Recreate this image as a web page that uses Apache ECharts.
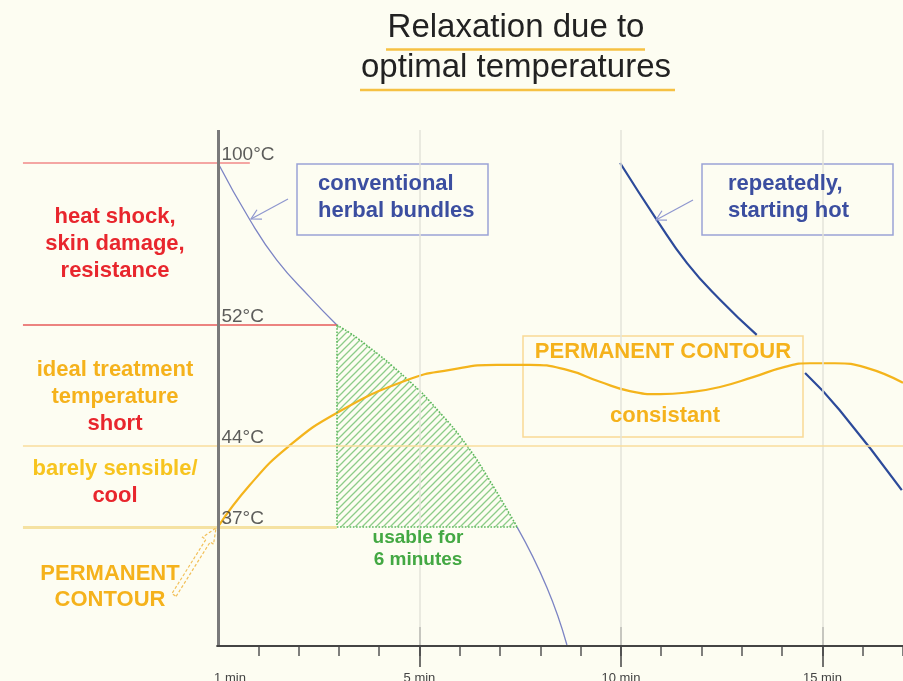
<!DOCTYPE html>
<html><head><meta charset="utf-8">
<script src="https://cdn.jsdelivr.net/npm/echarts@6/dist/echarts.min.js"></script>
<style>html,body{margin:0;padding:0;background:#fdfdf2}#c{width:903px;height:681px}</style>
</head><body><div id="c"></div>
<script>
// ---------- data (x: minutes, y: schematic heat level 0-100) ----------
const minorTicks = [1,2,3,4,5,6,7,8,9,10,11,12,13,14,15,16,17];
const majorTicks = [5,10,15];
const xLabelValues = [0,5,10,15];
const xLabelTexts = ['1 min','5 min','10 min','15 min'];
const tempLabels = ['37°C','44°C','52°C','100°C'];
const tempLevels = [23.1,38.8,62.2,93.6];
const levelLineFrom = -4.84;
const levelLineTo = [2.95,17,2.95,0.79];
const bundleCurve = [[0,93.6],[0.79,82.6],[1.46,74.8],[2.28,67.6],[2.95,62.2],[3.52,59.3],[4.71,51.6],[5.51,45.2],[6.20,38.6],[6.75,32.0],[7.42,23.1],[8.16,11.4],[8.66,0.2]];
const repeatCurve = [[9.98,93.6],[10.89,82.6],[11.64,74.2],[12.46,67.1],[13.37,60.3],null,[14.57,52.9],[15.43,45.7],[16.97,30.2]];
const contourCurve = [[0,23.1],[0.79,31.2],[1.74,38.6],[2.98,45.3],[4.71,51.6],[5.76,53.5],[6.92,54.5],[7.74,54.5],[8.66,53.5],[9.48,51.2],[10.22,49.4],[10.97,48.8],[11.71,49.2],[12.46,50.2],[13.28,52.1],[14.07,54.1],[14.69,54.8],[15.31,54.8],[16.10,53.9],[17,51.0]];
const usableStart = 2.95, usableEnd = 7.42;

// ---------- derived ----------
const bundleA = bundleCurve.filter(p => p[0] <= usableStart);
const bundleB = bundleCurve.filter(p => p[0] >= usableEnd);
const hatchData = bundleCurve.filter(p => p[0] >= usableStart && p[0] <= usableEnd);
const gapIdx = repeatCurve.indexOf(null);
const repeatA = repeatCurve.slice(0, gapIdx), repeatB = repeatCurve.slice(gapIdx + 1);
const usableTop = hatchData[0][1];

function hatchPattern(){
  const s = 7, c = document.createElement('canvas'); c.width = c.height = s;
  const g = c.getContext('2d'); g.strokeStyle = '#8dcc89'; g.lineWidth = 1.3;
  g.beginPath(); g.moveTo(0,s); g.lineTo(s,0); g.moveTo(-1,1); g.lineTo(1,-1); g.moveTo(s-1,s+1); g.lineTo(s+1,s-1); g.stroke();
  return c;
}

const FONT = 'Liberation Sans, Arial, sans-serif';
const RED = '#e8262d', ORANGE = '#f5b21c', YEL = '#f7c41f', BLUE_T = '#3b4ea0', GREEN = '#43a843';
const SM = {smooth:0.5, symbol:'none', silent:true};

function T(text, x, y, color, size, weight, align){
  return {type:'text', x, y, z:10, silent:true, style:{text, fill:color, fontSize:size, fontWeight:weight||'bold', fontFamily:FONT, align:align||'center', verticalAlign:'middle'}};
}
function arrow(tail, tip, color, len, ang){
  const dx = tail[0]-tip[0], dy = tail[1]-tip[1], L = Math.hypot(dx,dy), ux = dx/L, uy = dy/L;
  const r = a => [tip[0] + len*(ux*Math.cos(a) - uy*Math.sin(a)), tip[1] + len*(ux*Math.sin(a) + uy*Math.cos(a))];
  return [
    {type:'line', z:10, silent:true, shape:{x1:tail[0],y1:tail[1],x2:tip[0],y2:tip[1]}, style:{stroke:color, lineWidth:1.2}},
    {type:'polyline', z:10, silent:true, shape:{points:[r(ang), tip, r(-ang)]}, style:{stroke:color, lineWidth:1.2, fill:null}}
  ];
}
function blockArrow(tail, tip, color){
  const dx = tip[0]-tail[0], dy = tip[1]-tail[1], L = Math.hypot(dx,dy), ux = dx/L, uy = dy/L, nx = -uy, ny = ux;
  const bx = tip[0]-ux*15, by = tip[1]-uy*15, w = 2.5, h = 6.5;
  const pts = [[tail[0]+nx*w,tail[1]+ny*w],[bx+nx*w,by+ny*w],[bx+nx*h,by+ny*h],tip,[bx-nx*h,by-ny*h],[bx-nx*w,by-ny*w],[tail[0]-nx*w,tail[1]-ny*w]];
  return {type:'polygon', z:10, silent:true, shape:{points:pts}, style:{stroke:color, lineWidth:1.2, fill:null, lineDash:[3,2]}};
}

const levelColors = ['#f5e2a2','#f8dc9c','#e65a5a','#f08888'];
const levelWidths = [3,1.6,1.6,1.6];

const chart = echarts.init(document.getElementById('c'), null, {renderer:'canvas'});
const xBase = {type:'value', min:-5, max:17, interval:1, gridIndex:0, position:'bottom', axisLine:{show:false}, splitLine:{show:false}};
chart.setOption({
  animation:false,
  backgroundColor:'#fdfdf2',
  grid:{left:16.5, right:0, top:130, bottom:35, containLabel:false, outerBoundsMode:'none'},
  xAxis:[
    Object.assign({}, xBase, {
      axisTick:{show:true, customValues:minorTicks, length:10, lineStyle:{color:'#555', width:1.5}},
      axisLabel:{show:true, customValues:xLabelValues, margin:26, color:'#444', fontSize:13, fontFamily:FONT,
        formatter:v => { const i = xLabelValues.indexOf(v); return i === 0 ? '{f|' + xLabelTexts[i] + '}' : xLabelTexts[i]; },
        rich:{f:{padding:[0,0,0,24], fontSize:13, color:'#444', fontFamily:FONT}}}
    }),
    Object.assign({}, xBase, {axisTick:{show:true, customValues:majorTicks, length:21, lineStyle:{color:'#444', width:1.5}}, axisLabel:{show:false}}),
    Object.assign({}, xBase, {axisTick:{show:true, inside:true, customValues:majorTicks, length:19, lineStyle:{color:'#444', width:1.5}}, axisLabel:{show:false}})
  ],
  yAxis:{type:'value', min:0, max:100, axisLine:{show:false}, axisTick:{show:false}, axisLabel:{show:false}, splitLine:{show:false}},
  series:[
    {type:'line', name:'frame', data:[], z:1, clip:false, silent:true,
     markLine:{silent:true, symbol:['none','none'], label:{show:false}, animation:false,
       data:[
         ...majorTicks.map(v => [{coord:[v,0], lineStyle:{color:'#e3e3da', width:1.5, type:'solid'}},{coord:[v,100]}]),
         ...tempLevels.map((lv,i) => [{coord:[levelLineFrom,lv], lineStyle:{color:levelColors[i], width:levelWidths[i], type:'solid'}},{coord:[levelLineTo[i],lv]}]),
         [{coord:[0,0], lineStyle:{color:'#7a7a7a', width:3, type:'solid'}},{coord:[0,100]}],
         [{coord:[-0.04,0], lineStyle:{color:'#444', width:2, type:'solid'}},{coord:[17,0]}]
       ]}},
    Object.assign({type:'line', name:'usable', data:hatchData, z:2,
     lineStyle:{color:'#5cb85c', width:1.6, type:'dotted'},
     areaStyle:{color:{image:hatchPattern(), repeat:'repeat'}, origin:tempLevels[0], opacity:1},
     markLine:{silent:true, symbol:['none','none'], label:{show:false},
       lineStyle:{color:'#5cb85c', width:1.6, type:'dotted'},
       data:[[{coord:[usableStart,usableTop]},{coord:[usableStart,tempLevels[0]]}],[{coord:[usableStart,tempLevels[0]]},{coord:[usableEnd,tempLevels[0]]}]]}}, SM),
    Object.assign({type:'line', name:'bundles', data:bundleA, z:3, lineStyle:{color:'#7c84c4', width:1.3}}, SM),
    Object.assign({type:'line', name:'bundles2', data:bundleB, z:3, lineStyle:{color:'#7c84c4', width:1.3}}, SM),
    Object.assign({type:'line', name:'repeat', data:repeatA, z:3, lineStyle:{color:'#2c4a9a', width:2.2}}, SM),
    Object.assign({type:'line', name:'repeat2', data:repeatB, z:3, lineStyle:{color:'#2c4a9a', width:2.2}}, SM),
    Object.assign({type:'line', name:'contour', data:contourCurve, z:4, lineStyle:{color:'#f4b41c', width:2.2}}, SM),
    {type:'scatter', name:'levels', data:tempLevels.map(v => [0,v]), z:5, symbolSize:1, itemStyle:{color:'rgba(0,0,0,0)'}, silent:true,
     label:{show:true, position:'right', distance:0, offset:[3,-8.5], fontSize:19, color:'#333', fontFamily:FONT,
       formatter:p => tempLabels[p.dataIndex]}}
  ],
  graphic:[
    T('Relaxation due to', 516, 28, '#222', 33, 'normal'),
    T('optimal temperatures', 516, 68, '#222', 33, 'normal'),
    {type:'line', z:10, silent:true, shape:{x1:386,y1:49.5,x2:645,y2:49.5}, style:{stroke:'#f6c143', lineWidth:2.5}},
    {type:'line', z:10, silent:true, shape:{x1:360,y1:90,x2:675,y2:90}, style:{stroke:'#f6c143', lineWidth:2.5}},
    T('heat shock,', 115, 217, RED, 22), T('skin damage,', 115, 244, RED, 22), T('resistance', 115, 271, RED, 22),
    T('ideal treatment', 115, 370, ORANGE, 22), T('temperature', 115, 397, ORANGE, 22), T('short', 115, 424, RED, 22),
    T('barely sensible/', 115, 469, YEL, 22), T('cool', 115, 496, RED, 22),
    T('PERMANENT', 110, 574, ORANGE, 22), T('CONTOUR', 110, 600, ORANGE, 22),
    blockArrow([174,595],[216,528],'#f2c05a'),
    {type:'rect', z:1, silent:true, shape:{x:297,y:164,width:191,height:71}, style:{stroke:'#9aa3d6', lineWidth:1.5, fill:null}},
    T('conventional', 318, 184, BLUE_T, 22, 'bold', 'left'), T('herbal bundles', 318, 211, BLUE_T, 22, 'bold', 'left'),
    ...arrow([288,199],[251,219],'#8f97cf',11,0.5),
    {type:'rect', z:1, silent:true, shape:{x:702,y:164,width:191,height:71}, style:{stroke:'#9aa3d6', lineWidth:1.5, fill:null}},
    T('repeatedly,', 728, 184, BLUE_T, 22, 'bold', 'left'), T('starting hot', 728, 211, BLUE_T, 22, 'bold', 'left'),
    ...arrow([693,200],[656,220],'#8f97cf',11,0.5),
    {type:'rect', z:1, silent:true, shape:{x:523,y:336,width:280,height:101}, style:{stroke:'#f9d995', lineWidth:1.5, fill:null}},
    T('PERMANENT CONTOUR', 663, 352, ORANGE, 22), T('consistant', 665, 416, ORANGE, 22),
    T('usable for', 418, 538, GREEN, 19), T('6 minutes', 418, 560, GREEN, 19)
  ]
});
</script></body></html>
